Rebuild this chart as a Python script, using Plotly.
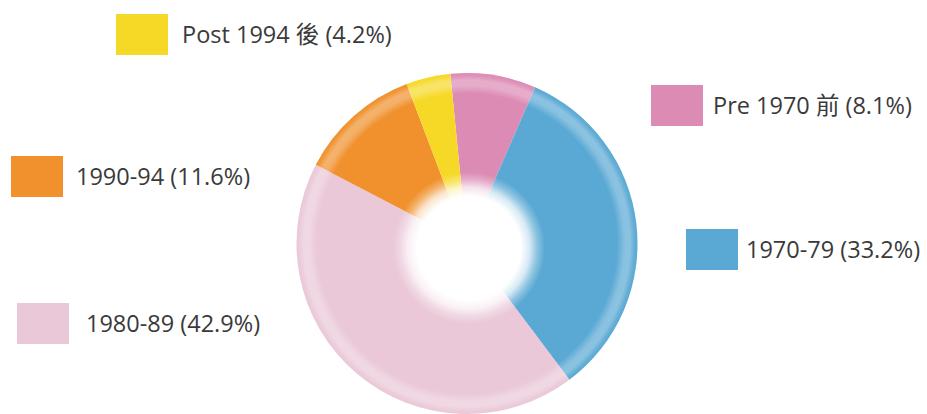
import base64
import plotly.graph_objects as go

categories = ["Pre 1970 前", "1970-79", "1980-89", "1990-94", "Post 1994 後"]
shares = [8.1, 33.2, 42.9, 11.6, 4.2]
colors = ["#DC8BB5", "#5AA9D4", "#EAC8D8", "#F0912D", "#F6D927"]

W, H = 927, 414
CX, CY = 467, 244  # pie centre in pixels (from top)
R = 171


def dom(cx, cy, r):
    yb = H - cy
    return dict(x=[(cx - r) / W, (cx + r) / W], y=[max(0, (yb - r) / H), (yb + r) / H])


def svg_uri(stops):
    st = "".join(f'<stop offset="{o}" stop-color="white" stop-opacity="{a}"/>' for o, a in stops)
    svg = ('<svg xmlns="http://www.w3.org/2000/svg" width="200" height="200" viewBox="0 0 200 200">'
           f'<defs><radialGradient id="g" cx="0.5" cy="0.5" r="0.5">{st}</radialGradient></defs>'
           '<circle cx="100" cy="100" r="100" fill="url(#g)"/></svg>')
    return "data:image/svg+xml;base64," + base64.b64encode(svg.encode()).decode()


def img(cx, cy, r, stops):
    return dict(source=svg_uri(stops), xref="paper", yref="paper",
                x=(cx - r) / W, y=1 - (cy - r) / H, sizex=2 * r / W, sizey=2 * r / H,
                xanchor="left", yanchor="top", sizing="stretch", layer="above")


fig = go.Figure()
fig.add_trace(go.Pie(
    labels=categories, values=shares, sort=False, direction="clockwise",
    rotation=-5.6, marker=dict(colors=colors, line=dict(width=0)),
    textinfo="none", hoverinfo="label+percent", showlegend=False,
    domain=dom(CX, CY, R),
))

images = [
    # soft rim highlight
    img(467, 243.5, 170.5, [(0, 0), (0.88, 0), (0.925, 0.28), (0.955, 0.3), (0.985, 0.05), (1, 0)]),
    # blurred white centre
    img(469, 248, 76, [(0, 1), (0.68, 1), (0.8, 0.75), (0.9, 0.3), (1, 0)]),
]

# legend-like boxes and labels
box_pos = {  # x0, y0 (top-left, px), label x, label centre y
    "Post 1994 後": (116, 14, 180, 34),
    "Pre 1970 前": (651, 85, 711, 105),
    "1990-94": (11, 156, 74, 176),
    "1970-79": (686, 229, 744, 249),
    "1980-89": (17, 303, 84, 323),
}
shapes, annotations = [], []
for cat, val, col in zip(categories, shares, colors):
    x0, y0, tx, ty = box_pos[cat]
    shapes.append(dict(type="rect", xref="paper", yref="paper",
                       x0=x0 / W, x1=(x0 + 52) / W, y0=1 - (y0 + 41) / H, y1=1 - y0 / H,
                       fillcolor=col, line=dict(width=0)))
    annotations.append(dict(xref="paper", yref="paper", x=tx / W, y=1 - ty / H,
                            xanchor="left", yanchor="middle", showarrow=False,
                            text=f"{cat} ({val}%)",
                            font=dict(family="Open Sans, Noto Sans CJK TC", size=23.5, color="#3a3a3a")))

fig.update_layout(width=W, height=H, margin=dict(l=0, r=0, t=0, b=0),
                  paper_bgcolor="white", plot_bgcolor="white",
                  shapes=shapes, annotations=annotations, images=images)
fig.write_html("out.html", config={"displayModeBar": False},
               post_script="document.body.style.margin='0';")
